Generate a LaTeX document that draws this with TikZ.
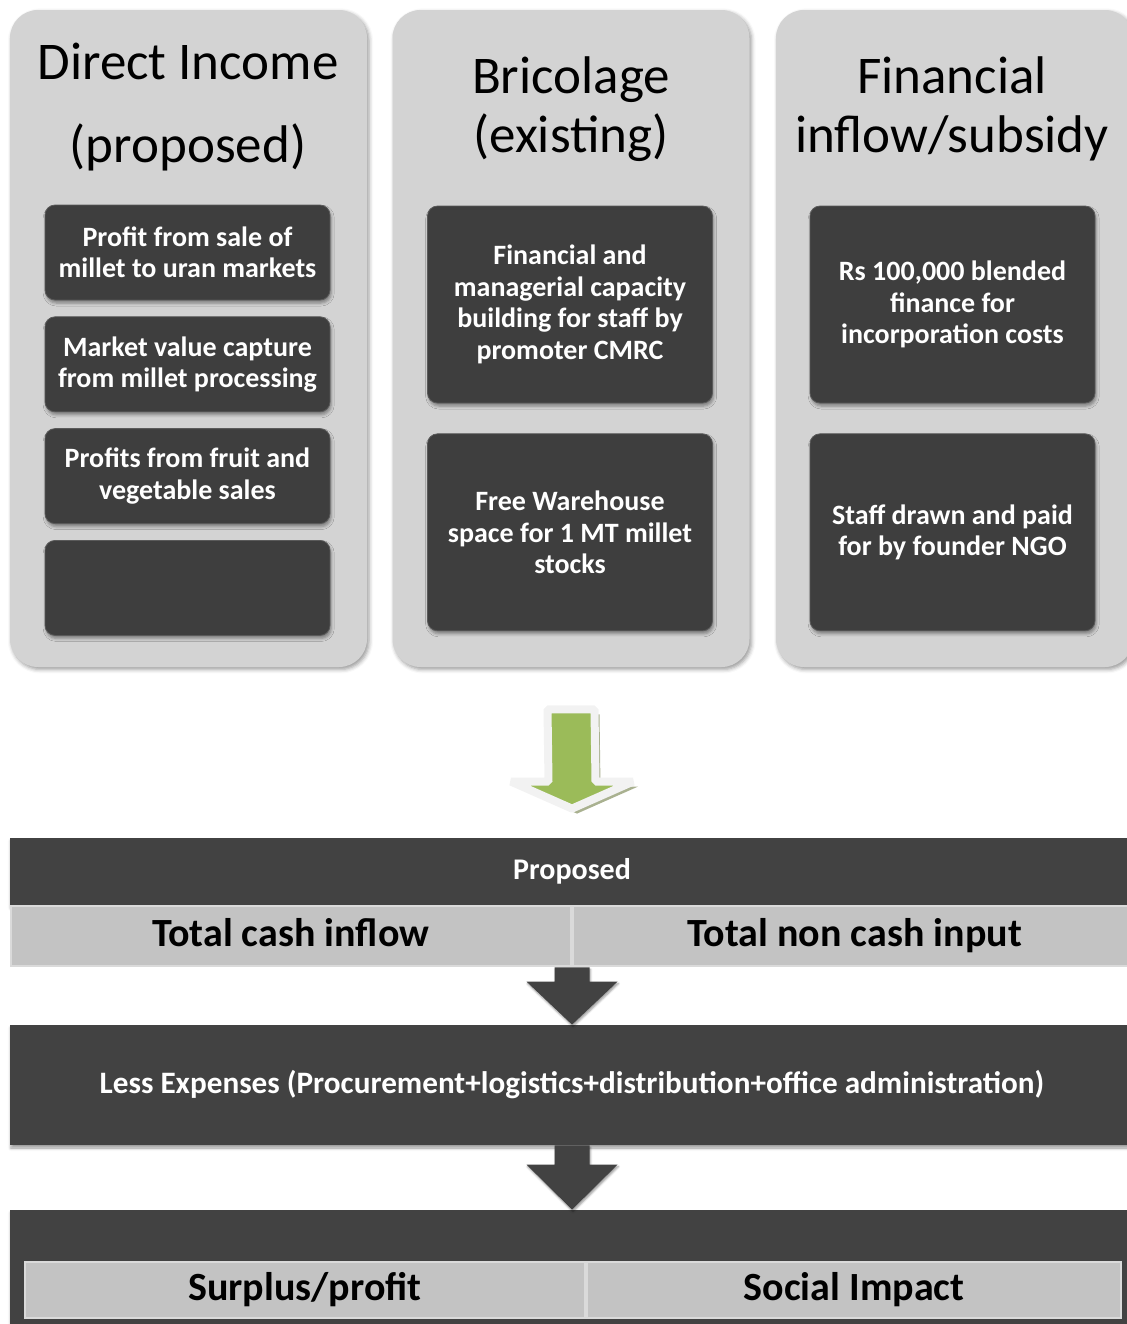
\documentclass[tikz,border=0pt]{standalone}
\usepackage{fontspec}
\setmainfont{Carlito}
\usetikzlibrary{positioning,calc,shadows,shadows.blur}
\definecolor{PanelGray}{HTML}{D3D3D3}
\definecolor{BoxDark}{HTML}{3E3E3E}
\definecolor{BoxRim}{HTML}{5A5A5A}
\definecolor{BarDark}{HTML}{424242}
\definecolor{CellGray}{HTML}{C3C3C3}
\definecolor{CellEdge}{HTML}{DADADA}
\definecolor{LeafGreen}{HTML}{9BBB59}
\definecolor{ArrowRim}{HTML}{F2F2F2}
\definecolor{GreenShade}{HTML}{A9B190}
\tikzset{
  panel/.style={fill=PanelGray,rounded corners=14pt,minimum width=178.5pt,
    minimum height=328.5pt,
    blur shadow={shadow xshift=1pt,shadow yshift=-1.2pt,shadow blur radius=2pt}},
  paneltitle/.style={align=center,font=\fontsize{26.5}{29.5}\selectfont},
  darkbox/.style={fill=BoxDark,draw=BoxRim,rounded corners=5pt,text=white,
    align=center,minimum width=142.5pt,inner sep=2pt,
    font=\fontsize{14}{15.75}\selectfont\bfseries,
    blur shadow={shadow xshift=0.6pt,shadow yshift=-1.5pt,shadow blur radius=1.5pt}},
  smallbox/.style={darkbox,minimum height=47.5pt},
  tallbox/.style={darkbox,minimum height=98.5pt},
  bar/.style={fill=BarDark,text=white,minimum width=562pt,inner sep=0pt,
    text height=11pt,text depth=3pt,
    blur shadow={shadow xshift=0.5pt,shadow yshift=-1.5pt,shadow blur radius=1.5pt}},
  cell/.style={fill=CellGray,draw=CellEdge,line width=1pt,inner sep=0pt,
    text height=14pt,text depth=4pt,
    font=\fontsize{20}{24}\selectfont\bfseries},
  blockarrow/.style={fill=BarDark,
    blur shadow={shadow xshift=0.5pt,shadow yshift=-1pt,shadow blur radius=1pt}},
  greenarrow/.style={fill=LeafGreen,draw=ArrowRim,line width=4pt,line join=bevel,
    drop shadow={fill=GreenShade,opacity=1,shadow xshift=2.5pt,shadow yshift=-2.5pt}}
}
\begin{document}
\begin{tikzpicture}[x=0.5pt,y=-0.5pt]
  \useasboundingbox (0,0) rectangle (1126,1324);

  % three source panels
  \node[panel] (income) at (188.5,338.5) {};
  \node[panel] (bric) at (571,338.5) {};
  \node[panel] (finance) at (954.5,338.5) {};

  \node[paneltitle,font=\fontsize{26.5}{41.5}\selectfont] (incometitle) at (188,107)
    {Direct Income\\(proposed)};
  \node[paneltitle] (brictitle) at (571,109) {Bricolage\\(existing)};
  \node[paneltitle] (fintitle) at (952,109) {Financial\\inflow/subsidy};

  \node[smallbox] (sale) at (187.5,252.5) {Profit from sale of\\millet to uran markets};
  \node[smallbox,below=8pt of sale] (capture) {Market value capture\\from millet processing};
  \node[smallbox,below=8pt of capture] (fruit) {Profits from fruit and\\vegetable sales};
  \node[smallbox,below=8pt of fruit] (blank) {};

  \node[tallbox] (capacity) at (570,304.5)
    {Financial and\\managerial capacity\\building for staff by\\promoter CMRC};
  \node[tallbox,below=15pt of capacity] (warehouse)
    {Free Warehouse\\space for 1 MT millet\\stocks};

  \node[tallbox] (blended) at (952.5,304.5)
    {Rs 100,000 blended\\finance for\\incorporation costs};
  \node[tallbox,below=15pt of blended] (staff) {Staff drawn and paid\\for by founder NGO};

  % summary table
  \node[bar,minimum height=33.5pt,font=\fontsize{15}{18}\selectfont\bfseries]
    (proposed) at (572,871.5) {Proposed};
  \node[cell,anchor=north west,minimum width=280pt,minimum height=30pt]
    (cash) at (proposed.south west) {Total cash inflow};
  \node[cell,right=0pt of cash,minimum width=282pt,minimum height=30pt]
    (noncash) {Total non cash input};

  \node[bar,minimum height=60pt,font=\fontsize{15.6}{18}\selectfont\bfseries]
    (expenses) at (572,1085)
    {Less Expenses (Procurement+logistics+distribution+office administration)};

  \node[bar,minimum height=65pt] (result) at (572,1275) {};
  \node[cell,minimum width=280pt,minimum height=28pt] (surplus) at (305,1290)
    {Surplus/profit};
  \node[cell,right=0pt of surplus,minimum width=267pt,minimum height=28pt]
    (impact) {Social Impact};

  % arrows
  \coordinate (gtop) at ($(bric.south)+(0,42)$);
  \coordinate (gtip) at ($(proposed.north)+(0,-29)$);
  \path[greenarrow] ($(gtop)+(-23.5,0)$) -- ($(gtop)+(23.5,0)$)
    -- ($(gtip)+(23.5,-27)$) -- ($(gtip)+(61,-27)$) -- (gtip)
    -- ($(gtip)+(-61,-27)$) -- ($(gtip)+(-23.5,-27)$) -- cycle;

  \coordinate (down1) at (proposed.center |- cash.south);
  \path[blockarrow] ($(down1)+(-17.5,0)$) -- ($(down1)+(17.5,0)$)
    -- ($(expenses.north)+(17.5,-43)$) -- ($(expenses.north)+(45.5,-43)$)
    -- (expenses.north) -- ($(expenses.north)+(-45.5,-43)$)
    -- ($(expenses.north)+(-17.5,-43)$) -- cycle;
  \path[blockarrow] ($(expenses.south)+(-17.5,0)$) -- ($(expenses.south)+(17.5,0)$)
    -- ($(result.north)+(17.5,-45)$) -- ($(result.north)+(45.5,-45)$)
    -- (result.north) -- ($(result.north)+(-45.5,-45)$)
    -- ($(result.north)+(-17.5,-45)$) -- cycle;
\end{tikzpicture}
\end{document}
